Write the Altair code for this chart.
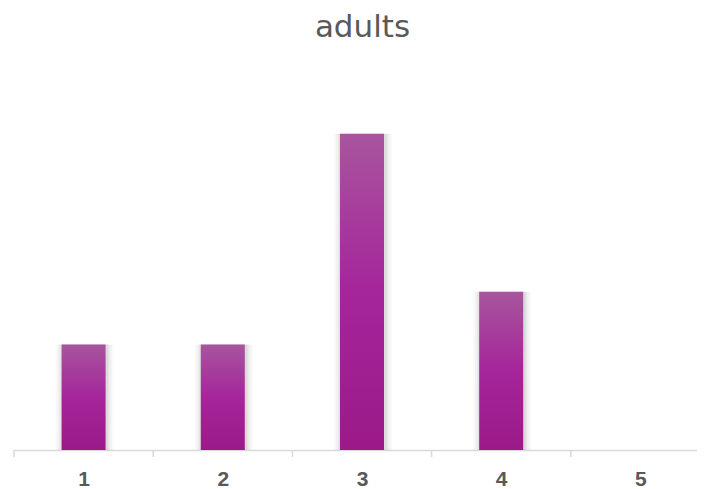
import altair as alt
import pandas as pd

categories = [1, 2, 3, 4, 5]
values = [2, 2, 6, 3, 0]
title_text = "adults"

df = pd.DataFrame({"cat": categories, "val": values})
bounds = pd.DataFrame({"b": [c - 0.5 for c in categories]})

W = 683
H = 369
unit = 139.2
xdom = [0.5, 0.5 + W / unit]

xscale = alt.Scale(domain=xdom, nice=False, zero=False, padding=0)
yscale = alt.Scale(domain=[0, 7], nice=False)

grad = alt.LinearGradient(
    gradient="linear", x1=0, y1=0, x2=0, y2=1,
    stops=[
        alt.GradientStop(color="#A8559E", offset=0),
        alt.GradientStop(color="#A5259B", offset=0.5),
        alt.GradientStop(color="#9B1A88", offset=1),
    ],
)

xaxis = alt.Axis(
    values=categories,
    format="d",
    ticks=False,
    domainColor="#D9D9D9",
    domainWidth=1.5,
    labelFont="Liberation Sans",
    labelFontSize=21,
    labelFontWeight="bold",
    labelColor="#595959",
    labelPadding=18,
    grid=False,
    labelFlush=False,
    labelOverlap=False,
)

layers = []
for sz, op in [(58, 0.025), (54, 0.03), (50, 0.04), (47, 0.05)]:
    layers.append(
        alt.Chart(df).mark_bar(size=sz, color="#000000", opacity=op, xOffset=1).encode(
            x=alt.X("cat:Q", scale=xscale, title=None, axis=xaxis),
            y=alt.Y("val:Q", scale=yscale, axis=None),
        )
    )

bars = alt.Chart(df).mark_bar(size=44, color=grad).encode(
    x=alt.X("cat:Q", scale=xscale, title=None, axis=xaxis),
    y=alt.Y("val:Q", scale=yscale, axis=None),
)

ticks = alt.Chart(bounds).mark_rule(color="#D9D9D9", strokeWidth=1.5).encode(
    x=alt.X("b:Q", scale=xscale, title=None, axis=xaxis),
    y=alt.value(H),
    y2=alt.value(H + 7),
)

chart = (
    alt.layer(*layers, bars, ticks)
    .properties(
        width=W,
        height=H,
        autosize=alt.AutoSizeParams(type="none"),
        padding={"left": 6, "top": 73, "right": 0, "bottom": 39},
        background="white",
        title=alt.TitleParams(
            text=title_text,
            font="DejaVu Sans",
            fontSize=31,
            fontWeight="normal",
            color="#595959",
            anchor="middle",
            offset=37,
            dx=7,
        ),
    )
    .configure_view(strokeWidth=0)
)

chart.save("out.html", embed_options={"renderer": "svg", "actions": False})
